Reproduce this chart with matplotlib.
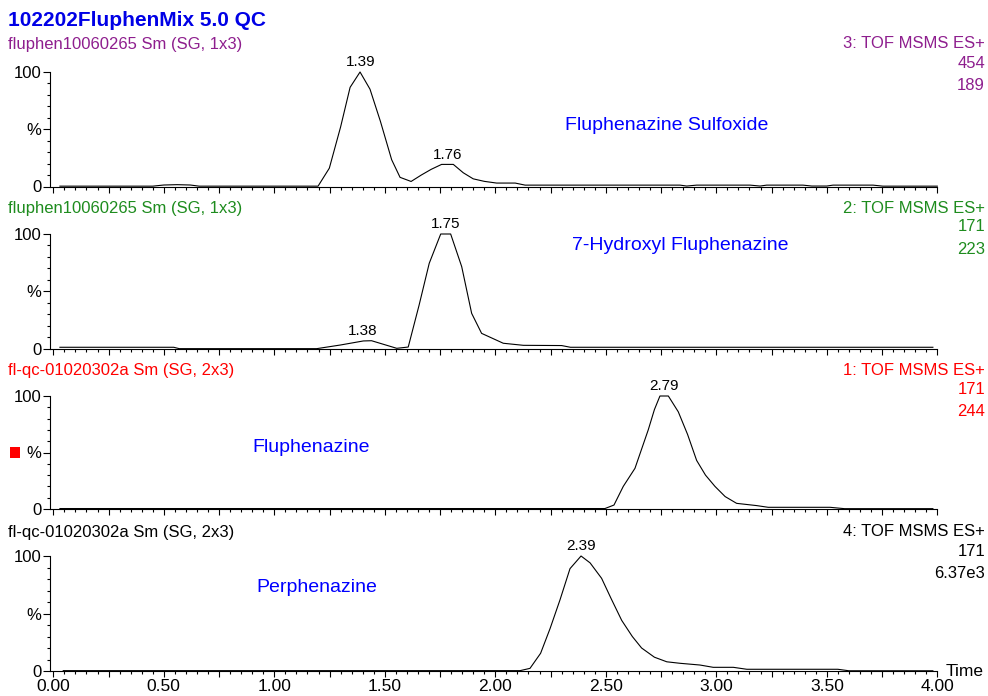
import matplotlib
matplotlib.use("Agg")
import matplotlib.pyplot as plt
from matplotlib.ticker import MultipleLocator, FixedLocator, FuncFormatter
from matplotlib.patches import Rectangle

plt.rcParams['font.family'] = ['Liberation Sans', 'DejaVu Sans']

# ---------------- data ----------------
title = "102202FluphenMix 5.0 QC"

t_sulfox = [0.03, 0.45, 0.50, 0.56, 0.62, 0.66, 1.198, 1.249, 1.30, 1.343, 1.388, 1.433, 1.48, 1.531,
            1.569, 1.619, 1.665, 1.71, 1.757, 1.81, 1.855, 1.90, 1.95, 2.006, 2.09, 2.135, 2.836, 2.866,
            2.911, 3.153, 3.198, 3.228, 3.392, 3.432, 3.50, 3.528, 3.709, 3.754, 4.00]
y_sulfox = [0.3, 0.3, 1.3, 1.6, 1.3, 0.3, 0.3, 16, 52, 86.6, 100, 85, 57, 23.4,
            8, 4.4, 10, 15, 19.3, 19.3, 12, 6.7, 4.5, 3.0, 3.0, 1.2, 1.2, 0.4,
            1.2, 1.2, 0.4, 1.2, 1.2, 0.4, 0.4, 1.2, 1.2, 0.3, 0.3]

t_hydroxy = [0.03, 0.545, 0.57, 1.192, 1.30, 1.403, 1.44, 1.478, 1.554, 1.606, 1.655, 1.701, 1.753,
             1.798, 1.848, 1.893, 1.938, 2.036, 2.127, 2.30, 2.34, 3.98]
y_hydroxy = [1.5, 1.5, 0.3, 0.3, 3.5, 7, 7.2, 5, 0.6, 1.7, 38, 74.5, 100,
             100, 71.6, 31, 13.6, 5, 3.2, 3.0, 1.5, 1.5]

t_fluph = [0.03, 2.496, 2.537, 2.579, 2.632, 2.692, 2.72, 2.745, 2.783, 2.828, 2.87, 2.911, 2.951,
           2.994, 3.04, 3.092, 3.183, 3.235, 3.515, 3.58, 3.98]
y_fluph = [0.4, 0.4, 3.5, 20, 36, 70, 88, 100, 100, 86, 66, 43, 30,
           20, 11, 5, 3, 1.5, 1.5, 0.3, 0.3]

t_perph = [0.045, 2.112, 2.157, 2.205, 2.248, 2.293, 2.338, 2.388, 2.429, 2.481, 2.524, 2.572, 2.62,
           2.662, 2.72, 2.776, 2.836, 2.926, 2.986, 3.077, 3.138, 3.55, 3.60, 3.98]
y_perph = [0.3, 0.3, 2.3, 15.4, 37, 62, 89, 100, 94, 80.6, 63, 44, 30,
           20, 12, 8, 6.7, 5.2, 3.2, 3.2, 1.5, 1.5, 0.2, 0.2]

compounds = ["Fluphenazine Sulfoxide", "7-Hydroxyl Fluphenazine", "Fluphenazine", "Perphenazine"]
files = ["fluphen10060265 Sm (SG, 1x3)", "fluphen10060265 Sm (SG, 1x3)",
         "fl-qc-01020302a Sm (SG, 2x3)", "fl-qc-01020302a Sm (SG, 2x3)"]
functions = ["3: TOF MSMS ES+", "2: TOF MSMS ES+", "1: TOF MSMS ES+", "4: TOF MSMS ES+"]
masses = ["454", "171", "171", "171"]
intens = ["189", "223", "244", "6.37e3"]
peak_labels = [[(1.39, "1.39"), (1.785, "1.76")], [(1.775, "1.75"), (1.40, "1.38")],
               [(2.764, "2.79")], [(2.39, "2.39")]]
peak_heights = [[100, 19.3], [100, 7.2], [100], [100]]

# ---------------- layout ----------------
W, H = 988, 696
DPI = 100
fig = plt.figure(figsize=(W / DPI, H / DPI), dpi=DPI)

colors = ['#8E1E8E', '#1E8C1E', '#FF0000', '#000000']
# (top px of 100%, bottom px of 0%)
panels = [(72, 186.5), (234, 349), (396, 509), (556, 671)]
header_y = [44, 208, 370, 532]
comp_pos = [(667, 125), (680, 246), (311, 448), (317, 588)]

series = [(t_sulfox, y_sulfox), (t_hydroxy, y_hydroxy), (t_fluph, y_fluph), (t_perph, y_perph)]

x_left_px, x_right_px = 50, 937.3
x0_px, px_per_unit = 53.3, 221.0
xmin = (x_left_px - x0_px) / px_per_unit
xmax = (x_right_px - x0_px) / px_per_unit

fig.text(8 / W, 1 - 20 / H, title, color='#0000E6', fontsize=15, fontweight='bold',
         ha='left', va='center')

for i, ((top, bot), (tt, yy)) in enumerate(zip(panels, series)):
    ax = fig.add_axes([x_left_px / W, 1 - bot / H, (x_right_px - x_left_px) / W, (bot - top) / H])
    ax.plot(tt, yy, color='black', lw=0.8, clip_on=False)
    ax.set_xlim(xmin, xmax)
    ax.set_ylim(0, 100)
    for s in ['top', 'right']:
        ax.spines[s].set_visible(False)
    for s in ['left', 'bottom']:
        ax.spines[s].set_linewidth(0.8)
    ax.xaxis.set_major_locator(MultipleLocator(0.25))
    ax.xaxis.set_minor_locator(MultipleLocator(0.05))
    ax.tick_params(axis='x', which='major', length=4.5, width=0.8, direction='out')
    ax.tick_params(axis='x', which='minor', length=1.8, width=0.8, direction='out')
    if i == 3:
        ax.xaxis.set_major_formatter(FuncFormatter(
            lambda v, p: f"{v:.2f}" if abs(v * 2 - round(v * 2)) < 1e-6 else ""))
        ax.tick_params(axis='x', labelsize=12.5, pad=1)
    else:
        ax.set_xticklabels([])
    ax.yaxis.set_major_locator(FixedLocator([0, 50, 100]))
    ax.yaxis.set_minor_locator(MultipleLocator(10))
    ax.set_yticklabels(['0', '%', '100'])
    ax.tick_params(axis='y', which='major', length=5, width=0.8, labelsize=12, pad=1)
    ax.tick_params(axis='y', which='minor', length=2.2, width=0.8)
    ax.patch.set_visible(False)

    c = colors[i]
    hy = header_y[i]
    fig.text(8 / W, 1 - hy / H, files[i], color=c, fontsize=12, ha='left', va='center')
    fig.text(985 / W, 1 - hy / H, functions[i], color=c, fontsize=12, ha='right', va='center')
    fig.text(985 / W, 1 - (hy + 19) / H, masses[i], color=c, fontsize=12, ha='right', va='center')
    fig.text(985 / W, 1 - (hy + 41) / H, intens[i], color=c, fontsize=12, ha='right', va='center')

    cx, cy = comp_pos[i]
    fig.text(cx / W, 1 - cy / H, compounds[i], color='#0000FF', fontsize=14, ha='center', va='center')

    for (pt, lab), ph in zip(peak_labels[i], peak_heights[i]):
        ax.annotate(lab, (pt, ph), xytext=(0, 2), textcoords='offset points',
                    ha='center', va='bottom', fontsize=11, annotation_clip=False)

    if i == 3:
        fig.text(965 / W, 1 - 672 / H, "Time", fontsize=12.5, ha='center', va='center')

fig.add_artist(Rectangle((10 / W, 1 - 458 / H), 10 / W, 11 / H, transform=fig.transFigure,
                         facecolor='#FF0000', edgecolor='none'))

fig.savefig("out.png", dpi=DPI)
